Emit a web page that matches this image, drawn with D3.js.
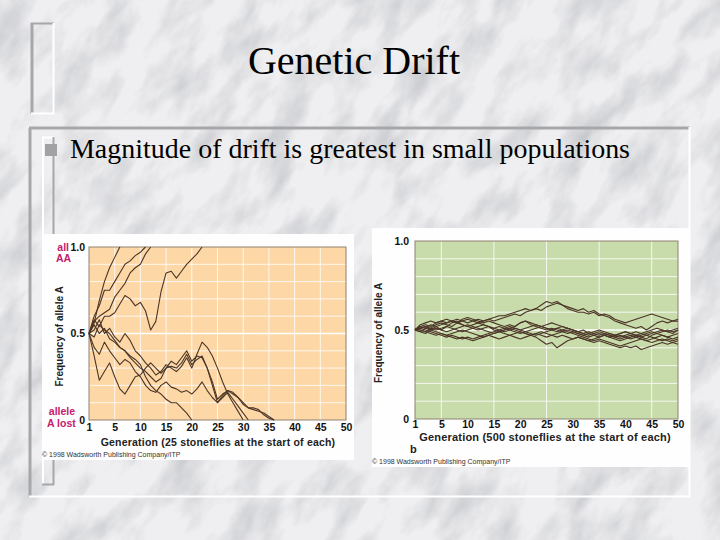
<!DOCTYPE html>
<html><head><meta charset="utf-8">
<script src="https://cdn.jsdelivr.net/npm/d3@7"></script>
<style>html,body{margin:0;padding:0;background:#ececee;}svg{display:block;}</style>
</head><body>
<script>
// ---------- DATA ----------
const titleText = "Genetic Drift";
const bulletText = "Magnitude of drift is greatest in small populations";
const xTickValues = [0,5,10,15,20,25,30,35,40,45,50];
const xTickLabels = ["1","5","10","15","20","25","30","35","40","45","50"];
const yTickValues = [0,0.5,1];
const yTickLabels = ["0","0.5","1.0"];
const yTitle = "Frequency of allele A";
const xTitleSmall = "Generation (25 stoneflies at the start of each)";
const xTitleLarge = "Generation (500 stoneflies at the start of each)";
const copyrightSmall = "\u00A9 1998 Wadsworth Publishing Company/ITP";
const copyrightLarge = "\u00A9 1998 Wadsworth Publishing Company/ITP";

// allele A frequency per generation, small population (25)
const smallPop = [
  [0.5,0.56,0.69,0.8,0.88,0.94,1.0],
  [0.5,0.6,0.66,0.75,0.75,0.8,0.85,0.9,0.92,0.95,0.97,1.0],
  [0.5,0.57,0.6,0.62,0.64,0.71,0.75,0.79,0.85,0.88,0.9,0.96,1.0],
  [0.5,0.58,0.54,0.6,0.6,0.62,0.67,0.72,0.7,0.66,0.68,0.63,0.52,0.57,0.74,0.85,0.86,0.82,0.86,0.9,0.93,0.96,1.0],
  [0.5,0.55,0.5,0.53,0.47,0.45,0.42,0.4,0.37,0.35,0.32,0.25,0.2,0.17,0.15,0.12,0.1,0.1,0.07,0.04,0],
  [0.5,0.37,0.23,0.28,0.33,0.25,0.18,0.15,0.2,0.25,0.26,0.3,0.33,0.3,0.27,0.3,0.31,0.3,0.33,0.38,0.32,0.35,0.37,0.3,0.22,0.12,0.15,0.17,0.16,0.13,0.1,0.07,0.06,0.05,0.04,0.02,0],
  [0.5,0.52,0.58,0.5,0.53,0.48,0.45,0.5,0.46,0.4,0.37,0.33,0.3,0.26,0.28,0.32,0.3,0.28,0.31,0.36,0.3,0.38,0.45,0.42,0.37,0.3,0.22,0.15,0.1,0.05,0],
  [0.5,0.48,0.55,0.52,0.5,0.46,0.42,0.4,0.36,0.33,0.3,0.28,0.25,0.22,0.24,0.3,0.34,0.32,0.36,0.4,0.34,0.37,0.36,0.3,0.2,0.1,0.13,0.16,0.12,0.08,0.04,0],
  [0.5,0.42,0.38,0.45,0.4,0.36,0.32,0.35,0.33,0.28,0.25,0.2,0.17,0.16,0.2,0.22,0.19,0.18,0.16,0.17,0.15,0.18,0.22,0.17,0.13,0.1,0.14,0.17,0.15,0.13,0.09,0.07,0.07,0.06,0.03,0.01,0]
];

// allele A frequency per generation, large population (500)
const largePop = [
  [.50,.52,.53,.52,.54,.55,.54,.55,.56,.55,.54,.55,.56,.55,.56,.57,.58,.58,.59,.60,.61,.62,.61,.62,.64,.66,.65,.66,.64,.63,.62,.61,.62,.60,.61,.59,.58,.57,.55,.54,.53,.52,.51,.52,.50,.52,.54,.55,.54,.55,.56],
  [.50,.51,.52,.51,.53,.54,.53,.52,.54,.55,.56,.55,.54,.55,.56,.55,.56,.57,.58,.59,.58,.60,.61,.62,.61,.63,.64,.65,.64,.62,.61,.60,.60,.59,.60,.58,.59,.58,.56,.55,.54,.55,.56,.57,.58,.59,.58,.57,.56,.55,.55],
  [.50,.49,.51,.53,.52,.50,.52,.54,.55,.53,.52,.51,.50,.51,.52,.50,.49,.50,.51,.52,.54,.55,.53,.52,.51,.50,.51,.50,.49,.48,.49,.48,.47,.46,.47,.48,.47,.46,.47,.48,.49,.48,.47,.46,.47,.48,.49,.50,.49,.48,.50],
  [.50,.51,.50,.49,.48,.47,.46,.47,.46,.45,.46,.45,.46,.47,.48,.49,.50,.49,.50,.51,.50,.49,.48,.47,.48,.49,.50,.51,.50,.49,.48,.47,.46,.45,.44,.45,.44,.43,.42,.41,.42,.43,.44,.45,.44,.43,.44,.45,.44,.43,.44],
  [.50,.52,.51,.50,.52,.53,.54,.55,.54,.53,.52,.53,.54,.53,.52,.51,.52,.51,.50,.49,.48,.49,.50,.51,.52,.53,.54,.53,.52,.51,.50,.49,.48,.49,.48,.47,.48,.47,.46,.45,.46,.47,.46,.45,.44,.45,.46,.47,.46,.45,.46],
  [.50,.49,.48,.50,.49,.48,.47,.48,.49,.50,.49,.48,.47,.46,.47,.48,.49,.48,.47,.46,.45,.46,.47,.46,.44,.42,.43,.40,.42,.44,.45,.46,.45,.44,.45,.46,.47,.46,.45,.44,.45,.46,.47,.46,.45,.47,.48,.47,.46,.47,.48],
  [.50,.50,.49,.48,.47,.48,.47,.46,.45,.46,.45,.44,.45,.46,.47,.46,.45,.46,.47,.48,.49,.48,.47,.48,.49,.48,.47,.46,.47,.46,.45,.46,.45,.44,.43,.44,.43,.42,.41,.40,.41,.40,.41,.39,.40,.41,.42,.43,.42,.43,.42],
  [.50,.53,.54,.55,.54,.55,.56,.55,.54,.56,.57,.56,.55,.54,.55,.54,.53,.52,.53,.52,.54,.55,.54,.53,.52,.51,.50,.51,.52,.51,.50,.49,.50,.48,.49,.50,.49,.48,.47,.48,.49,.48,.47,.48,.49,.50,.51,.50,.49,.50,.51],
  [.50,.51,.52,.50,.51,.50,.49,.50,.51,.52,.53,.52,.51,.50,.49,.48,.49,.50,.51,.50,.49,.48,.47,.48,.47,.46,.47,.48,.49,.50,.49,.48,.47,.48,.47,.46,.47,.48,.47,.46,.47,.48,.49,.48,.47,.46,.45,.44,.45,.44,.45],
  [.51,.50,.49,.51,.50,.51,.52,.51,.50,.49,.50,.51,.52,.53,.52,.51,.50,.51,.52,.51,.50,.51,.52,.53,.52,.51,.50,.49,.50,.51,.50,.49,.48,.47,.48,.49,.48,.47,.46,.47,.46,.45,.46,.47,.48,.49,.48,.49,.50,.49,.50]
];
const gridY = [0.1,0.2,0.3,0.4,0.5,0.6,0.7,0.8,0.9];
const gridXSmall = [5,10,15,20,25,30,35,40,45];
const gridXLarge = [5,15,25,35,45];

// ---------- DRAW ----------
const W = 720, H = 540;
const svg = d3.select("body").append("svg").attr("width", W).attr("height", H);
const defs = svg.append("defs");
const f = defs.append("filter").attr("id","marble").attr("x",0).attr("y",0).attr("width","100%").attr("height","100%");
f.append("feTurbulence").attr("type","fractalNoise").attr("baseFrequency","0.035 0.016").attr("numOctaves",5).attr("seed",7).attr("result","n");
f.append("feColorMatrix").attr("in","n").attr("type","matrix")
  .attr("values","0 0 0 0 0.42  0 0 0 0 0.43  0 0 0 0 0.46  1.2 0 0 0 -0.5");

svg.append("rect").attr("width",W).attr("height",H).attr("fill","#efeff1");
svg.append("g").attr("transform","rotate(35 360 270)")
  .append("rect").attr("x",-300).attr("y",-300).attr("width",1320).attr("height",1140)
  .attr("filter","url(#marble)");

const gray = "#a7a7aa", white = "#ffffff";
function line(x1,y1,x2,y2,c,w){svg.append("line").attr("x1",x1).attr("y1",y1).attr("x2",x2).attr("y2",y2).attr("stroke",c).attr("stroke-width",w);}
// top-left bar
line(32,23,32,114,gray,3); line(31,23.5,54,23.5,gray,2);
line(53.5,23,53.5,114,white,2); line(31,113.5,54,113.5,white,2);
// content box
line(30,128,30,497,gray,3); line(29,128,690,128,gray,3);
line(689.5,127,689.5,497,white,2); line(29,496.5,690,496.5,white,2);
// inner bar
line(43,137,43,485,white,2); line(42,137.5,54,137.5,white,2);
line(53.5,137,53.5,485,gray,2); line(42,484.5,54,484.5,gray,2);
svg.append("rect").attr("x",45).attr("y",144).attr("width",12).attr("height",12).attr("fill","#a2a2a4");

const serif = "'Liberation Serif','Times New Roman',Times,'Nimbus Roman','DejaVu Serif',serif";
svg.append("text").attr("x",354).attr("y",74).attr("text-anchor","middle")
  .attr("font-family",serif).attr("font-size",40).attr("fill","#000").text(titleText);
svg.append("text").attr("x",70).attr("y",158).attr("textLength",560).attr("lengthAdjust","spacingAndGlyphs")
  .attr("font-family",serif).attr("font-size",27.5).attr("fill","#000").text(bulletText);

const sans = "'Liberation Sans',Arial,Helvetica,sans-serif";
const lineColor = "#4b3527";

function panel(opt){
  const g = svg.append("g");
  g.append("rect").attr("x",opt.img[0]).attr("y",opt.img[1]).attr("width",opt.img[2]).attr("height",opt.img[3]).attr("fill","#fefefe");
  const x = d3.scaleLinear().domain([0,50]).range(opt.xr);
  const y = d3.scaleLinear().domain([0,1]).range(opt.yr);
  g.append("rect").attr("x",opt.xr[0]).attr("y",opt.yr[1]).attr("width",opt.xr[1]-opt.xr[0]).attr("height",opt.yr[0]-opt.yr[1])
    .attr("fill",opt.fill);
  g.selectAll(".gy").data(gridY).enter().append("line")
    .attr("x1",opt.xr[0]).attr("x2",opt.xr[1]).attr("y1",d=>y(d)).attr("y2",d=>y(d))
    .attr("stroke","#fff").attr("stroke-width",d=>d===0.5?1.4:1).attr("opacity",d=>d===0.5?1:0.8);
  g.selectAll(".gx").data(opt.gridX).enter().append("line")
    .attr("y1",opt.yr[0]).attr("y2",opt.yr[1]).attr("x1",d=>x(d)).attr("x2",d=>x(d))
    .attr("stroke","#fff").attr("stroke-width",1).attr("opacity",0.8);
  g.append("rect").attr("x",opt.xr[0]).attr("y",opt.yr[1]).attr("width",opt.xr[1]-opt.xr[0]).attr("height",opt.yr[0]-opt.yr[1])
    .attr("fill","none").attr("stroke","#8d8272").attr("stroke-width",1);
  const ln = d3.line().x((d,i)=>x(i)).y(d=>y(d));
  g.selectAll(".traj").data(opt.data).enter().append("path")
    .attr("d",ln).attr("fill","none").attr("stroke",lineColor).attr("stroke-width",1.1).attr("stroke-linejoin","round");
  const xa = g.append("g").attr("transform",`translate(0,${opt.yr[0]})`)
    .call(d3.axisBottom(x).tickValues(xTickValues).tickFormat((d,i)=>xTickLabels[i]).tickSize(0).tickPadding(opt.xpad));
  xa.select(".domain").remove();
  xa.selectAll("text").attr("font-family",sans).attr("font-size",10.5).attr("font-weight","bold").attr("fill","#111");
  const ya = g.append("g").attr("transform",`translate(${opt.xr[0]},0)`)
    .call(d3.axisLeft(y).tickValues(yTickValues).tickFormat((d,i)=>yTickLabels[i]).tickSize(0).tickPadding(opt.ypad));
  ya.select(".domain").remove();
  ya.selectAll("text").attr("font-family",sans).attr("font-size",10.5).attr("font-weight","bold").attr("fill","#111");
  g.append("text").attr("transform",`translate(${opt.ytx},${(opt.yr[0]+opt.yr[1])/2+3}) rotate(-90)`)
    .attr("text-anchor","middle").attr("font-family",sans).attr("font-size",10).attr("font-weight","bold").attr("fill","#222").text(yTitle);
  g.append("text").attr("x",opt.xtx).attr("y",opt.xty).attr("text-anchor","middle")
    .attr("font-family",sans).attr("font-size",opt.xtfs).attr("fill","#222").attr("font-weight","bold").attr("letter-spacing",0.2).text(opt.xTitle);
  g.append("text").attr("x",opt.cx).attr("y",opt.cy).attr("font-family",sans).attr("font-size",7).attr("fill","#333").text(opt.copyright);
  return {g,x,y};
}

const left = panel({img:[42,234,312,226], xr:[89,346], yr:[420,247], fill:"#fdd8a6", gridX:gridXSmall,
  data:smallPop, xpad:4, ypad:4, ytx:63, xtx:218, xty:446, xtfs:10.5, xTitle:xTitleSmall,
  copyright:copyrightSmall, cx:42, cy:457});
const mag = "#c4206e";
function magText(t,xx,yy,anchor){left.g.append("text").attr("x",xx).attr("y",yy).attr("text-anchor",anchor)
  .attr("font-family",sans).attr("font-size",10.5).attr("font-weight","bold").attr("fill",mag).text(t);}
magText("all",69,left.y(1)+4,"end");
magText("AA",56,left.y(1)+15,"start");
magText("allele",62,left.y(0)-5,"middle");
magText("A lost",47,left.y(0)+7,"start");

panel({img:[372,228,318,239], xr:[415,678], yr:[419,241], fill:"#c8dbaa", gridX:gridXLarge,
  data:largePop, xpad:2, ypad:6, ytx:382, xtx:545, xty:441, xtfs:11, xTitle:xTitleLarge,
  copyright:copyrightLarge, cx:372, cy:464});
svg.append("text").attr("x",410).attr("y",453).attr("font-family",sans).attr("font-size",11).attr("font-weight","bold").attr("fill","#222").text("b");
</script>
</body></html>
